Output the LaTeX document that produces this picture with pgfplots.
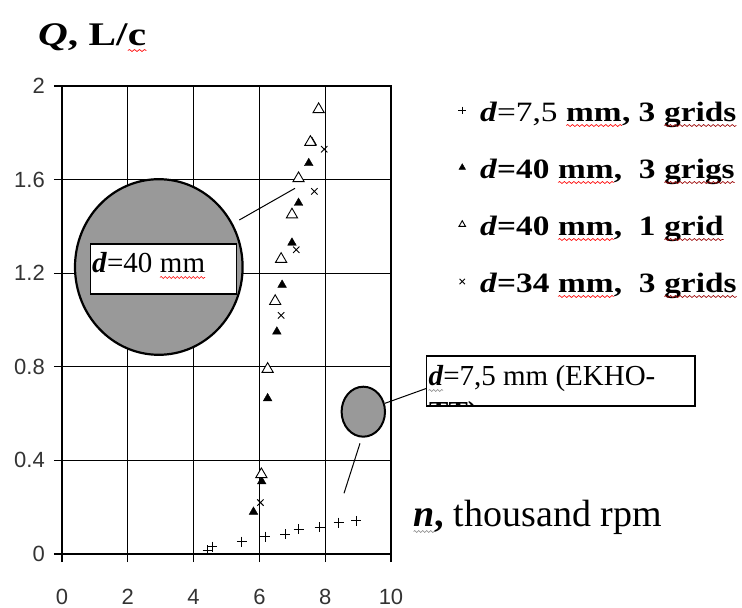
\documentclass[border=0pt]{standalone}
\usepackage{fontspec}
\setmainfont{Liberation Serif}
\newfontfamily\arialfont{Liberation Sans}
\usepackage{pgfplots}
\pgfplotsset{compat=1.18}
\usetikzlibrary{decorations.pathmorphing}

% spell-check style wavy underline
\newcommand\squig[2][red]{\tikz[baseline=(w.base)]{%
  \node[inner sep=0pt, outer sep=0pt, text height=, text depth=] (w) {#2};
  \draw[#1, line width=0.6pt, decorate, decoration={snake, amplitude=1pt, segment length=4pt}]
    ([yshift=-4.5pt]w.base west) -- ([yshift=-4.5pt]w.base east);}}
\newcommand\lgfont{\fontsize{28}{34}\selectfont}
% legend text is set a little wide
\newcommand\wide[1]{\scalebox{1.19}[1]{#1}}

\begin{document}
\begin{tikzpicture}
\useasboundingbox (0,0) rectangle (742pt,608pt);
\begin{axis}[
  at={(62pt,54pt)}, anchor=south west,
  scale only axis, width=329pt, height=468pt,
  xmin=0, xmax=10, ymin=0, ymax=2,
  xtick={0,2,4,6,8,10},
  ytick={0,0.4,0.8,1.2,1.6,2},
  yticklabels={0,0.4,0.8,1.2,1.6,2},
  xtick pos=bottom, ytick pos=left,
  tick align=outside, major tick length=8pt,
  grid=major,
  major grid style={black, line width=1.1pt},
  axis line style={black, line width=1.1pt},
  tick style={black, line width=1.1pt},
  /pgf/number format/assume math mode=true,
  ticklabel style={font=\arialfont\fontsize{22}{24}\selectfont, text=black!80, inner sep=0pt},
  xticklabel style={anchor=north, yshift=-27pt},
  yticklabel style={anchor=east, xshift=-9pt},
  xlabel={\textbf{\textit{\squig[gray]{n}},} thousand rpm},
  every axis x label/.style={at={(rel axis cs:1.067,0.0577)}, anchor=base west,
    inner sep=0pt, font=\fontsize{38}{44}\selectfont},
  ylabel={\scalebox{1.25}[1]{\textbf{\textit{Q}, L/\squig{c}}}},
  every axis y label/.style={at={(rel axis cs:-0.073,1.0855)}, anchor=base west,
    inner sep=0pt, font=\fontsize{33}{40}\selectfont},
  legend cell align=left,
  legend image code/.code={\draw[#1, mark size=3.8pt] plot coordinates {(0pt,3pt)};},
  legend style={at={(rel axis cs:1.205,0.9722)}, anchor=north west,
    draw=none, fill=none, inner sep=0pt, outer sep=0pt,
    row sep=28pt, column sep=14pt,
    nodes={inner sep=0pt, text height=22pt, text depth=7pt, font=\lgfont}},
]
% d = 7,5 mm, 3 grids
\addplot[only marks, mark=+, mark size=5pt, line width=1pt, black] coordinates {
  (4.43,0.017) (4.56,0.031) (5.47,0.053) (6.18,0.074) (6.79,0.085)
  (7.19,0.105) (7.83,0.114) (8.41,0.134) (8.95,0.142)
};
\addlegendentry{\wide{\textbf{\textit{d}}=7,5 \textbf{\squig{mm}, 3 \squig[red!60!black]{grids}}}}
% d = 40 mm, 3 grids
\addplot[only marks, mark=triangle*, mark size=5pt, black, mark options={fill=black}] coordinates {
  (5.82,0.18) (6.07,0.31) (6.25,0.665) (6.53,0.95) (6.69,1.15)
  (6.99,1.33) (7.19,1.50) (7.50,1.67) (7.60,1.76)
};
\addlegendentry{\wide{\textbf{\textit{d}=40 \squig{mm},\ \ 3 \squig[red!60!black]{grigs}}}}
% d = 40 mm, 1 grid
\addplot[only marks, mark=triangle*, mark size=6.5pt, line width=0.9pt, black, mark options={fill=white}] coordinates {
  (6.06,0.34) (6.25,0.79) (6.48,1.08) (6.66,1.26) (6.99,1.45)
  (7.19,1.605) (7.55,1.76) (7.80,1.90)
};
\addlegendentry{\wide{\textbf{\textit{d}=40 \squig{mm},\ \ 1 \squig[red!60!black]{grid}}}}
% d = 34 mm, 3 grids
\addplot[only marks, mark=x, mark size=4.5pt, line width=0.9pt, black] coordinates {
  (6.03,0.22) (6.66,1.02) (7.12,1.30) (7.67,1.55) (7.97,1.73)
};
\addlegendentry{\wide{\textbf{\textit{d}=34 \squig{mm},\ \ 3 \squig[red!60!black]{grids}}}}
\end{axis}

% callouts, in page units measured from the top left corner
\begin{scope}[shift={(0pt,608pt)}, x=1pt, y=-1pt]
  % large pipe section
  \draw[line width=1pt] (239.3,220) -- (295,188.3);
  \draw[fill=black!40, line width=2.2pt] (158.8,267) ellipse [x radius=83.8pt, y radius=87.8pt];
  \draw[fill=white, line width=1.5pt] (90.7,244) rectangle (236.7,294);
  \node[anchor=base west, inner sep=0pt, font=\fontsize{29}{34}\selectfont]
    at (92,273) {\textbf{\textit{d}}=40 \squig{mm}};
  % small pipe section
  \draw[line width=1pt] (385,403.3) -- (426.7,388.3);
  \draw[line width=1pt] (360,443.3) -- (344,493.3);
  \draw[fill=black!40, line width=2pt] (363.3,411.7) ellipse [x radius=21.7pt, y radius=25pt];
  \fill[white] (426.7,356) rectangle (695,406);
  \begin{scope}
    \clip (426.7,356) rectangle (695,406);
    \node[anchor=base west, inner sep=0pt, font=\fontsize{29}{34}\selectfont]
      at (428,386) {\textbf{\textit{\squig[gray]{d}}}=7,5 mm (EKHO-};
    \node[anchor=base west, inner sep=0pt, font=\fontsize{29}{34}\selectfont]
      at (429,422) {\textbf{TT)}};
  \end{scope}
  \draw[line width=1.5pt] (426.7,356) rectangle (695,406);
\end{scope}
\end{tikzpicture}
\end{document}
